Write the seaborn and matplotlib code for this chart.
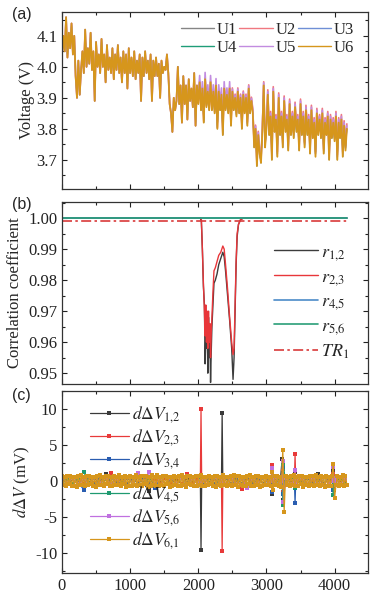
import numpy as np
import matplotlib
matplotlib.use('Agg')
import matplotlib.pyplot as plt
from matplotlib.ticker import MultipleLocator, FormatStrFormatter
import seaborn as sns

# (a) cell voltage U6, every 20 samples (V)
u6 = [4.04, 4.10, 4.05, 4.16, 4.03, 4.11, 4.06, 4.14, 4.04, 4.10,
      3.97, 3.90, 4.02, 3.91, 3.99, 4.05, 3.98, 4.12, 4.00, 4.06,
      4.01, 4.11, 3.99, 4.05, 3.89, 4.08, 4.00, 4.04, 3.98, 4.09,
      4.00, 4.04, 3.95, 4.07, 3.99, 4.03, 3.98, 4.06, 3.96, 4.04,
      3.99, 4.07, 3.98, 4.03, 3.95, 4.05, 3.98, 4.04, 3.93, 4.06,
      3.98, 4.03, 3.97, 4.05, 3.96, 4.02, 3.98, 4.04, 3.89, 4.03,
      3.97, 4.05, 3.98, 4.02, 3.96, 4.04, 3.89, 4.02, 3.97, 4.03,
      3.97, 4.01, 3.90, 4.02, 3.98, 4.00, 3.99, 4.04, 3.98, 3.88,
      3.85, 3.79, 3.90, 3.86, 3.89, 4.00, 3.88, 3.94, 3.82, 3.97,
      3.88, 3.94, 3.83, 3.96, 3.89, 3.93, 3.87, 3.98, 3.81, 3.94,
      3.88, 3.95, 3.86, 3.93, 3.82, 3.96, 3.87, 3.92, 3.86, 3.95,
      3.86, 3.92, 3.85, 3.94, 3.80, 3.92, 3.86, 3.91, 3.78, 3.93,
      3.86, 3.91, 3.85, 3.93, 3.81, 3.92, 3.86, 3.90, 3.84, 3.92,
      3.85, 3.90, 3.80, 3.91, 3.85, 3.90, 3.81, 3.93, 3.85, 3.89,
      3.85, 3.74, 3.80, 3.68, 3.78, 3.72, 3.69, 3.79, 3.94, 3.74,
      3.80, 3.91, 3.78, 3.84, 3.70, 3.92, 3.79, 3.83, 3.71, 3.90,
      3.78, 3.84, 3.74, 3.89, 3.79, 3.83, 3.73, 3.88, 3.78, 3.84,
      3.77, 3.87, 3.79, 3.83, 3.73, 3.88, 3.78, 3.84, 3.74, 3.86,
      3.78, 3.83, 3.72, 3.86, 3.77, 3.82, 3.71, 3.85, 3.78, 3.83,
      3.77, 3.85, 3.72, 3.82, 3.78, 3.84, 3.70, 3.83, 3.77, 3.82,
      3.76, 3.84, 3.70, 3.82, 3.77, 3.83, 3.71, 3.81, 3.73, 3.80]
# offset of the other cells from U6, per block of 500 samples (V)
u1_shift = [0, 0, 0, 0, 0.0, 0.0, 0.0, 0.0, 0.0]
u2_shift = [0, 0, 0, 0, 0.004, 0.012, 0.016, 0.016, 0.016]
u3_shift = [0, 0, 0, 0, 0.0, 0.0, 0.0, 0.0, 0.0]
u4_shift = [0, 0, 0, 0, 0.0, 0.0, 0.0, 0.0, 0.0]
u5_shift = [0, 0, 0, 0, 0.022, 0.008, 0.010, 0.010, 0.010]
cells = ['U1', 'U2', 'U3', 'U4', 'U5', 'U6']
cell_colors = ['#858585', '#f07880', '#6f8fd6', '#1f9d78', '#c28ce0', '#d6961c']

# (b) correlation coefficients
r_x = [0, 2030, 2045, 2060, 2075, 2090, 2100, 2110, 2120, 2130, 2140, 2150, 2160,
       2170, 2180, 2190, 2200, 2215, 2230, 2250, 2275, 2300, 2330, 2360, 2380, 2400,
       2430, 2460, 2490, 2510, 2525, 2540, 2555, 2570, 2590, 2620, 2660, 4180]
r12 = [1.0, 1.0, 0.999, 0.99, 0.978, 0.972, 0.953, 0.962, 0.958, 0.965, 0.950, 0.968,
       0.955, 0.963, 0.947, 0.957, 0.965, 0.972, 0.979, 0.980, 0.982, 0.985, 0.987,
       0.989, 0.9875, 0.983, 0.975, 0.967, 0.958, 0.948, 0.955, 0.970, 0.985, 0.994,
       0.998, 0.9995, 1.0, 1.0]
r23 = [1.0, 1.0, 0.9995, 0.99, 0.979, 0.970, 0.962, 0.972, 0.960, 0.970, 0.958, 0.970,
       0.960, 0.966, 0.955, 0.963, 0.968, 0.976, 0.983, 0.984, 0.986, 0.988, 0.989,
       0.991, 0.990, 0.985, 0.977, 0.968, 0.960, 0.956, 0.958, 0.972, 0.986, 0.995,
       0.998, 0.9995, 1.0, 1.0]
flat_x = [0, 4180]
r45 = [1.0, 1.0]
r56 = [1.0, 1.0]
tr1 = [0.999, 0.999]

# (c) voltage-difference derivative (mV)
# d61 read every 20 samples
d61 = [0.7, -0.6, 0.55, -0.75, 0.65, -0.5, 0.75, -0.7, 0.6, -0.65,
       0.5, -0.8, 0.7, -0.55, 0.8, -0.6, 0.5, -0.75, 0.65, -0.6,
       0.75, -0.5, 0.6, -0.7, 0.55, -0.8, 0.7, -0.6, 0.8, -0.55,
       0.6, -0.7, 0.75, -0.5, 0.65, -0.75, 0.5, -0.65, 0.7, -0.6,
       0.55, -0.6, 0.8, -0.7, 0.6, -0.5, 0.75, -0.8, 0.55, -0.65,
       0.7, -0.75, 0.5, -0.6, 0.8, -0.65, 0.6, -0.55, 0.75, -0.7,
       0.65, -0.5, 0.7, -0.8, 0.55, -0.7, 0.8, -0.6, 0.5, -0.75,
       0.8, -0.65, 0.6, -0.55, 0.7, -0.75, 0.65, -0.5, 0.6, -0.8,
       0.5, -0.7, 0.75, -0.6, 0.55, -0.65, 0.7, -0.75, 0.8, -0.55,
       0.6, -0.8, 0.65, -0.5, 0.75, -0.6, 0.55, -0.7, 0.65, -0.75,
       0.7, -0.55, 0.8, -0.65, 0.5, -0.75, 0.6, -0.6, 0.7, -0.5,
       0.55, -0.7, 0.65, -0.8, 0.75, -0.55, 0.6, -0.65, 0.8, -0.6,
       0.6, -0.75, 0.5, -0.6, 0.7, -0.7, 0.85, -0.55, 0.65, -0.8,
       0.75, -0.6, 0.6, -0.7, 0.55, -0.65, 0.7, -0.5, 0.8, -0.75,
       0.5, -0.65, 0.75, -0.6, 0.65, -0.8, 0.6, -0.7, 0.55, -0.6,
       0.7, -0.55, 0.6, -0.75, 1.3, -1.2, 0.65, -0.6, 0.75, -0.7,
       0.6, -0.8, 4.3, -4.3, 0.7, -0.6, 0.55, -0.75, 0.65, -0.55,
       0.8, -0.7, 0.6, -0.65, 0.75, -0.5, 0.7, -0.8, 0.6, -0.6,
       0.55, -0.75, 0.7, -0.6, 0.65, -0.7, 0.8, -0.55, 0.6, -0.65,
       0.75, -0.6, 0.55, -0.8, 0.7, -0.65, 0.6, -0.7, 0.65, 2.4,
       -2.4, -0.6, 0.7, -0.75, 0.6, -0.55, 0.8, -0.7, 0.65, -0.6]

# the other pairs read every 80 samples plus the samples around the spikes
spike_x = [2030, 2040, 2050, 2340, 2350, 2360, 3070, 3080, 3090,
           3230, 3240, 3250, 3410, 3420, 3430, 3970, 3980, 3990]
d12 = [0.4, -0.5, 0.3, -0.4, 0.5, -0.3, 0.4, -0.5, 0.9, -0.4, 0.3, -0.5, 0.4,
       -0.3, 0.5, -0.4, -1.4, 0.4, -0.3, 0.5, -0.4, 0.3, -0.5, 0.4, -0.3, 0.5,
       0.0, -9.6, 0.0,
       -0.4, 0.4, -0.5, 0.3,
       0.0, 9.5, 0.0,
       -0.4, 0.5, -0.3, 0.4, -0.5, 0.3, -0.4, 0.5, -0.3,
       0.0, -1.8, 0.0,
       0.4, -0.4,
       3.0, -2.6, 0.0,
       0.5, -0.3,
       0.0, 1.2, 0.0,
       -0.4, 0.3, -0.5, 0.4, 1.0, -0.4, 0.3,
       0.0, 1.5, -1.2,
       0.4, -0.3, 0.5]
d23 = [-0.3, 0.4, -0.5, 0.3, -0.4, 0.5, -0.3, 0.4, -0.5, 1.1, -0.4, 0.3, -0.5,
       0.4, -0.3, 0.5, -0.4, 0.3, -0.5, 0.4, -0.3, 0.5, -0.4, 1.0, -0.5, 0.3,
       0.0, 10.0, 0.0,
       0.4, -0.5, 0.3, -0.4,
       0.0, -9.7, 0.0,
       0.5, -0.4, 0.3, -1.1, 0.4, -0.5, 0.3, -0.4, 0.5,
       0.0, 2.2, 0.0,
       -0.3, 0.4,
       0.0, 1.6, -1.5,
       -0.4, 0.5,
       0.0, 3.7, 0.0,
       0.3, -0.4, 0.5, -0.3, 0.4, -0.5, 0.3,
       0.0, 1.0, 0.0,
       -0.4, 0.5, -0.3]
d34 = [0.3, -0.4, 0.5, -0.3, -1.2, 0.4, -0.5, 0.3, -0.4, 0.5, -0.3, 0.4, -0.5,
       0.3, -0.4, 0.5, -0.3, -1.0, 0.4, -0.5, 0.3, -0.4, 0.5, -0.3, 0.4, -0.5,
       0.0, 0.5, 0.0,
       -0.3, 0.4, -0.5, 0.3,
       0.0, -0.4, 0.0,
       0.4, -0.5, 0.3, -0.4, 0.5, -0.3, 0.4, -0.5, 0.3,
       0.0, -1.6, 0.0,
       0.4, -0.5,
       0.0, 2.0, -1.8,
       0.3, -0.4,
       0.0, -3.1, 0.0,
       0.5, -0.3, 0.4, -0.5, 0.3, -0.4, 0.5,
       0.0, -1.3, 0.0,
       0.3, -0.4, 0.5]
d45 = [-0.4, 0.3, -0.5, 0.4, 1.2, -0.3, 0.5, -0.4, 0.3, -0.5, 0.4, -0.3, 0.5,
       -0.4, 1.0, -0.3, 0.4, -0.5, 0.3, -0.4, 0.5, -0.3, 0.4, -0.5, 0.3, -0.4,
       0.0, 0.4, 0.0,
       0.5, -0.3, 0.4, -0.5,
       0.0, 0.3, 0.0,
       -0.4, 0.5, -0.3, 0.4, -0.5, 0.3, -0.4, 0.5, -0.3,
       0.0, 1.3, 0.0,
       -0.5, 0.4,
       0.0, -3.4, 2.3,
       -0.3, 0.5,
       0.0, -1.0, 0.0,
       -0.4, 0.3, -0.5, 0.4, -0.3, 0.5, -0.4,
       0.0, -2.0, 0.0,
       -0.3, 0.4, -0.5]
d56 = [0.5, -0.3, 0.4, -0.5, 0.3, -0.4, 0.5, -0.3, 0.4, -0.5, 0.3, -0.4, 0.5,
       -0.3, 1.1, -0.4, 1.2, -0.5, 0.3, -0.4, 0.5, -0.3, 0.4, -0.5, 0.3, -0.4,
       0.0, -0.5, 0.0,
       0.3, -0.4, 0.5, -0.3,
       0.0, 0.4, 0.0,
       -0.5, 0.3, -0.4, 0.5, -1.0, 0.4, -0.3, 0.5, -0.4,
       0.0, 1.8, 0.0,
       0.5, -0.3,
       0.0, 2.7, -2.9,
       0.4, -0.5,
       0.0, 1.5, 0.0,
       -0.3, 0.4, -0.5, 0.3, -0.4, 0.5, -0.3,
       0.0, 2.0, 0.0,
       0.4, -0.5, 0.3]
pair_labels = [r'$\mathit{d\Delta V}_{\mathit{1{,}2}}$', r'$\mathit{d\Delta V}_{\mathit{2{,}3}}$',
               r'$\mathit{d\Delta V}_{\mathit{3{,}4}}$', r'$\mathit{d\Delta V}_{\mathit{4{,}5}}$',
               r'$\mathit{d\Delta V}_{\mathit{5{,}6}}$', r'$\mathit{d\Delta V}_{\mathit{6{,}1}}$']
pair_colors = ['#3a3a3a', '#e83a3a', '#2a5db0', '#1f9a70', '#c070e0', '#d6961c']

sns.set_theme(style='ticks')
plt.rcParams['font.family'] = ['Liberation Serif', 'DejaVu Serif']
plt.rcParams['mathtext.fontset'] = 'stix'
plt.rcParams['axes.unicode_minus'] = False
plt.rcParams['axes.edgecolor'] = '#333333'
plt.rcParams['axes.linewidth'] = 0.9

fig = plt.figure(figsize=(3.78, 5.95), dpi=100)
ax_a = fig.add_axes([0.164, 0.6824, 0.8095, 0.2975])
ax_b = fig.add_axes([0.164, 0.3546, 0.8095, 0.3059])
ax_c = fig.add_axes([0.164, 0.0370, 0.8095, 0.3059])

# ---- (a) ----
t_v = np.arange(len(u6)) * 20
blk = t_v // 500
shifts = [u1_shift, u2_shift, u3_shift, u4_shift, u5_shift, [0] * 9]
widths = [0.6, 1.2, 0.6, 0.6, 1.2, 1.3]
for name, col, sh, w in zip(cells, cell_colors, shifts, widths):
    y = np.array(u6) + np.array(sh)[blk]
    sns.lineplot(x=t_v, y=y, ax=ax_a, color=col, lw=w, label=name,
                 estimator=None, legend=False)
ax_a.set_ylim(3.606, 4.177)
ax_a.yaxis.set_major_locator(MultipleLocator(0.1))
ax_a.yaxis.set_minor_locator(MultipleLocator(0.05))
ax_a.yaxis.set_major_formatter(FormatStrFormatter('%.1f'))
ax_a.set_ylabel('Voltage (V)', fontsize=12)
ax_a.yaxis.set_label_coords(-0.088, 0.5)
h, l = ax_a.get_legend_handles_labels()
order = [0, 3, 1, 4, 2, 5]  # row-wise: U1 U2 U3 / U4 U5 U6
leg_a = ax_a.legend([h[i] for i in order], [l[i] for i in order], ncol=3,
                    loc='upper left', bbox_to_anchor=(0.355, 1.0), frameon=False,
                    handlelength=2.0, handletextpad=0.15, columnspacing=0.15,
                    labelspacing=0.1, borderaxespad=0.2, fontsize=12)
for line in leg_a.get_lines():
    line.set_linewidth(1.0)

# ---- (b) ----
sns.lineplot(x=r_x, y=r12, ax=ax_b, color='#3c3c3c', lw=1.0, estimator=None,
             label=r'$\mathit{r}_{\mathit{1{,}2}}$', legend=False)
sns.lineplot(x=r_x, y=r23, ax=ax_b, color='#e8363a', lw=1.0, estimator=None,
             label=r'$\mathit{r}_{\mathit{2{,}3}}$', legend=False)
sns.lineplot(x=flat_x, y=r45, ax=ax_b, color='#4b8bc8', lw=1.2, estimator=None,
             label=r'$\mathit{r}_{\mathit{4{,}5}}$', legend=False)
sns.lineplot(x=flat_x, y=r56, ax=ax_b, color='#2a9e78', lw=1.2, estimator=None,
             label=r'$\mathit{r}_{\mathit{5{,}6}}$', legend=False)
sns.lineplot(x=flat_x, y=tr1, ax=ax_b, color='#d9393a', lw=1.2, estimator=None,
             label=r'$\mathit{TR}_{\mathit{1}}$', legend=False)
ax_b.lines[-1].set_linestyle((0, (6, 2, 1.5, 2)))
ax_b.set_ylim(0.9465, 1.0052)
ax_b.yaxis.set_major_locator(MultipleLocator(0.01))
ax_b.yaxis.set_minor_locator(MultipleLocator(0.005))
ax_b.yaxis.set_major_formatter(FormatStrFormatter('%.2f'))
ax_b.set_ylabel('Correlation coefficient', fontsize=12)
ax_b.yaxis.set_label_coords(-0.127, 0.5)
ax_b.legend(loc='upper left', bbox_to_anchor=(0.67, 0.81), frameon=False,
            handlelength=2.4, handletextpad=0.2, labelspacing=0.3,
            borderaxespad=0, fontsize=13)

# ---- (c) ----
x_sparse = sorted(list(range(0, 4161, 80)) + spike_x)
t_d = np.arange(len(d61)) * 20
series = [(x_sparse, d12), (x_sparse, d23), (x_sparse, d34), (x_sparse, d45),
          (x_sparse, d56), (t_d, d61)]
for (xs, ys), lab, col in zip(series, pair_labels, pair_colors):
    sns.lineplot(x=xs, y=ys, ax=ax_c, color=col, lw=0.9, marker='s',
                 markersize=2.4, markeredgewidth=0, estimator=None,
                 label=lab, legend=False)
ax_c.set_ylim(-12.8, 12.5)
ax_c.yaxis.set_major_locator(MultipleLocator(5))
ax_c.yaxis.set_minor_locator(MultipleLocator(2.5))
ax_c.set_ylabel(r'$\mathit{d\Delta V}$ (mV)', fontsize=12)
ax_c.yaxis.set_label_coords(-0.098, 0.5)
h, l = ax_c.get_legend_handles_labels()
leg1 = ax_c.legend(h[:3], l[:3], loc='upper left', bbox_to_anchor=(0.07, 0.965),
                   frameon=False, handlelength=2.2, handletextpad=0.2,
                   labelspacing=0.12, borderaxespad=0, fontsize=12.5, markerscale=1.3)
ax_c.add_artist(leg1)
ax_c.legend(h[3:], l[3:], loc='lower left', bbox_to_anchor=(0.07, 0.08),
            frameon=False, handlelength=2.2, handletextpad=0.2,
            labelspacing=0.12, borderaxespad=0, fontsize=12.5, markerscale=1.3)

for ax in (ax_a, ax_b, ax_c):
    ax.set_xlim(0, 4490)
    ax.xaxis.set_major_locator(MultipleLocator(1000))
    ax.xaxis.set_minor_locator(MultipleLocator(500))
    ax.tick_params(which='both', direction='in', top=True, right=True,
                   width=0.8, labelsize=12, colors='#222222')
    ax.tick_params(which='major', length=3.5)
    ax.tick_params(which='minor', length=2.5)
    ax.set_xlabel('')
for ax in (ax_a, ax_b):
    ax.tick_params(labelbottom=False)

fig.text(0.032, 0.975, '(a)', family='Liberation Sans', fontsize=11.5, va='center')
fig.text(0.032, 0.6555, '(b)', family='Liberation Sans', fontsize=11.5, va='center')
fig.text(0.032, 0.3345, '(c)', family='Liberation Sans', fontsize=11.5, va='center')

fig.savefig('out.png', dpi=100)
